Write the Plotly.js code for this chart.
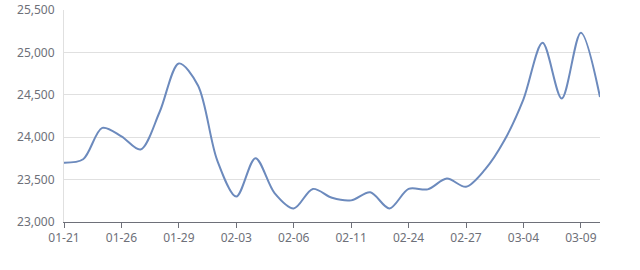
<!DOCTYPE html>
<html>
<head>
<meta charset="utf-8">
<script src="https://cdn.plot.ly/plotly-3.0.1.min.js"></script>
<style>html,body{margin:0;padding:0;background:#fff;}#chart{width:640px;height:270px;}</style>
</head>
<body>
<div id="chart"></div>
<script>
const dates = ["01-21","01-22","01-23","01-26","01-27","01-28","01-29","01-30","02-02","02-03",
  "02-04","02-05","02-06","02-09","02-10","02-11","02-12","02-13","02-24","02-25",
  "02-26","02-27","03-02","03-03","03-04","03-05","03-06","03-09","03-10"];
const prices = [23700,23740,24110,24010,23855,24300,24870,24610,23730,23300,
  23753,23340,23160,23390,23285,23255,23350,23160,23390,23385,
  23512,23415,23620,23960,24446,25113,24457,25233,24473];
const tickLabels = ["01-21","01-26","01-29","02-03","02-06","02-11","02-24","02-27","03-04","03-09"];
const yTicks = [23000,23500,24000,24500,25000,25500];

const trace = {
  x: dates, y: prices, type: 'scatter', mode: 'lines',
  line: {color: '#6C8ABD', width: 2, shape: 'spline', smoothing: 0.9},
  hoverinfo: 'x+y'
};
const layout = {
  width: 640, height: 270,
  margin: {l: 64, r: 40, t: 10, b: 48},
  paper_bgcolor: '#fff', plot_bgcolor: '#fff',
  showlegend: false,
  font: {family: '"Noto Sans", "DejaVu Sans", sans-serif', size: 12, color: '#6E7079'},
  xaxis: {
    type: 'category', categoryorder: 'array', categoryarray: dates,
    range: [0, dates.length - 1],
    tickmode: 'array', tickvals: tickLabels, ticktext: tickLabels,
    showgrid: false, zeroline: false,
    showline: true, linecolor: '#6E7079', linewidth: 1,
    ticks: 'outside', ticklen: 5, tickcolor: '#6E7079',
    tickfont: {size: 12, color: '#6E7079'}
  },
  yaxis: {
    range: [23000, 25500], tickmode: 'array', tickvals: yTicks,
    tickformat: ',d',
    showgrid: true, gridcolor: '#E0E0E0', gridwidth: 1,
    zeroline: false, showline: true, linecolor: '#E0E0E0', linewidth: 1,
    ticks: '', ticklabelstandoff: 6,
    tickfont: {size: 12, color: '#6E7079'}
  }
};
Plotly.newPlot('chart', [trace], layout, {displayModeBar: false, staticPlot: true});
</script>
</body>
</html>
